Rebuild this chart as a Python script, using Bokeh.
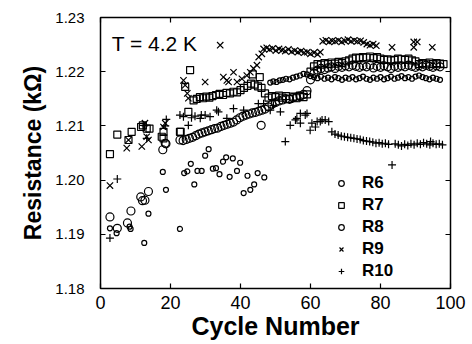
from bokeh.plotting import figure
from bokeh.models import (Range1d, LinearAxis, FixedTicker, NumeralTickFormatter,
                          Legend, LegendItem, Label, CustomLabelingPolicy)
from bokeh.embed import file_html
from bokeh.resources import INLINE

# ---------------- data ----------------
x_ticks = [0, 20, 40, 60, 80, 100]
y_ticks = [1.18, 1.19, 1.20, 1.21, 1.22, 1.23]
series_names = ["R6", "R7", "R8", "R9", "R10"]

r6_x = [2.7, 4.8, 7.7, 8.7, 11.5, 12.0, 12.7, 13.7, 17.8, 18.7, 18.5,
        22.7, 23.6, 24.5, 25.4, 26.3, 27.2, 28.1, 29.0, 29.9, 30.8, 31.7, 32.6,
        33.5, 34.4, 35.3, 36.2, 37.1, 38.0, 38.9, 39.8, 40.7, 41.6, 42.5, 43.4,
        44.3, 45.2, 46.1, 47.0, 45.9,
        48.0, 49.0, 50.0, 51.0, 52.0, 53.0, 54.0, 55.0, 56.0, 57.0, 58.0, 59.0,
        60, 61, 62, 63, 64, 65, 66, 67, 68, 69, 70, 71, 72, 73, 74, 75, 76, 77,
        78, 79, 80, 81, 82, 83, 84, 85, 86, 87, 88, 89, 90, 91, 92, 93, 94, 95,
        96, 97]
r6_y = [1.1932, 1.1911, 1.1921, 1.1943, 1.1969, 1.1962, 1.1963, 1.1979, 1.2056, 1.2067, 1.2068,
        1.2074, 1.2073, 1.2075, 1.2077, 1.2079, 1.2082, 1.2085, 1.2087, 1.2089, 1.2091, 1.2093, 1.2095,
        1.2096, 1.2099, 1.2101, 1.2103, 1.2105, 1.2107, 1.2111, 1.2115, 1.2118, 1.2120, 1.2122, 1.2124,
        1.2125, 1.2127, 1.2129, 1.2131, 1.2101,
        1.2135, 1.2140, 1.2143, 1.2146, 1.2148, 1.2150, 1.2149, 1.2152, 1.2153, 1.2155, 1.2158, 1.2165,
        1.2185, 1.2197, 1.2203, 1.2206, 1.2204, 1.2207, 1.2209, 1.2206, 1.2210, 1.2208, 1.2211, 1.2209,
        1.2212, 1.2210, 1.2208, 1.2211, 1.2209, 1.2212, 1.2207, 1.2210, 1.2208, 1.2211, 1.2209, 1.2206,
        1.2210, 1.2208, 1.2211, 1.2209, 1.2212, 1.2210, 1.2208, 1.2211, 1.2209, 1.2212, 1.2210, 1.2208,
        1.2211, 1.2209]

r7_x = [2.7, 4.8, 8.0, 8.9, 11.6, 12.1, 13.2, 14.0, 17.5, 18.0, 18.0, 22.7, 22.9, 24.2, 25.1, 25.6,
        26.6, 27.5, 28.4, 29.3, 30.2, 31.1, 32, 33, 34, 35, 36, 37, 38, 39, 40, 41, 42, 43,
        43.5, 44, 45, 45.5, 46, 47, 48, 49, 50, 51, 52, 53, 54, 55, 56, 57, 58, 59,
        60, 61, 62, 63, 64, 65, 66, 67, 68, 69, 70, 71, 72, 73, 74, 75, 76, 77, 78, 79,
        80, 81, 82, 83, 84, 85, 86, 87, 88, 89, 90, 91, 92, 93, 94, 95, 96, 97, 98]
r7_y = [1.2048, 1.2084, 1.2074, 1.2089, 1.2098, 1.2101, 1.2095, 1.2095, 1.2080, 1.2089, 1.2077, 1.2089,
        1.2089, 1.2172, 1.2126, 1.2203,
        1.2147, 1.2150, 1.2153, 1.2151, 1.2154, 1.2152, 1.2155, 1.2157, 1.2159, 1.2157, 1.2161, 1.2160,
        1.2163, 1.2162, 1.2166, 1.2170, 1.2174, 1.2178, 1.2195, 1.2176, 1.2173, 1.2190, 1.2170, 1.2160,
        1.2152, 1.2155, 1.2153, 1.2156, 1.2152, 1.2155, 1.2150, 1.2154, 1.2151, 1.2156, 1.2153, 1.2158,
        1.2200, 1.2210, 1.2214, 1.2213, 1.2216, 1.2214, 1.2217, 1.2215, 1.2218, 1.2216, 1.2219, 1.2221,
        1.2224, 1.2226, 1.2225, 1.2227, 1.2226, 1.2228, 1.2225, 1.2227, 1.2224, 1.2222, 1.2223, 1.2221,
        1.2222, 1.2224, 1.2223, 1.2222, 1.2224, 1.2221, 1.2219, 1.2214, 1.2216, 1.2215, 1.2217, 1.2214,
        1.2216, 1.2215, 1.2214]

r8_x = [2.7, 4.6, 8.3, 8.6, 12.5, 13.7, 17.8, 18.7, 22.7, 23.9, 24.8, 25.8, 26.8, 27.7, 28.9,
        29.9, 30.9, 32.1, 33.0, 34.0, 35.0, 35.9, 36.9, 37.8, 39.0, 39.9, 40.9, 42.0, 42.8,
        43.9, 44.9, 46.8,
        48.5, 49.4, 50.3, 51.2, 52.1, 53, 54, 55, 56, 57, 58, 59, 60, 61, 62, 63, 64, 65,
        66, 67, 68, 69, 70, 71, 72, 73, 74, 75, 76, 77, 78, 79, 80, 81, 82, 83, 84, 85, 86,
        87, 88, 89, 90, 91, 92, 93, 94, 95, 96, 97]
r8_y = [1.1911, 1.1902, 1.1914, 1.1910, 1.1884, 1.1938, 1.2015, 1.1982, 1.1910, 1.2013, 1.2016,
        1.2030, 1.1992, 1.2017, 1.2017, 1.2045, 1.2057, 1.2021, 1.2022, 1.2011, 1.2034, 1.2042,
        1.2006, 1.2040, 1.2017, 1.2032, 1.1976, 1.2008, 1.1982, 1.1992, 1.2013, 1.2005,
        1.2180, 1.2182, 1.2181, 1.2184, 1.2185, 1.2187, 1.2186, 1.2189, 1.2191, 1.2193, 1.2196,
        1.2195, 1.2192, 1.2190, 1.2188, 1.2191, 1.2187, 1.2189, 1.2186, 1.2190, 1.2188, 1.2185,
        1.2189, 1.2187, 1.2190, 1.2186, 1.2188, 1.2191, 1.2187, 1.2185, 1.2189, 1.2187, 1.2190,
        1.2186, 1.2188, 1.2191, 1.2187, 1.2189, 1.2192, 1.2188, 1.2190, 1.2187, 1.2191, 1.2193,
        1.2190, 1.2188, 1.2186, 1.2189, 1.2187, 1.2185]

r9_x = [2.7, 7.5, 8.0, 11.8, 12.7, 13.2, 13.7, 18.0, 18.5, 23.7, 24.2, 24.8, 25.1, 29.9, 34.2,
        35.1, 36.1, 36.6, 38.0, 39.0, 40.4, 41.8, 42.8, 43.7, 44.7, 45.2, 46.1, 46.6,
        47.5, 48.3, 49.2, 50.1, 51.0, 51.9, 52.8, 53.7, 54.6, 55.5, 56.4, 57.3, 58.2, 59.1,
        60.0, 61.0, 62.0, 62.8, 63.5, 64.4, 65.3, 66.2, 67.1, 68.0, 68.9, 69.8, 70.7, 71.6,
        72.5, 73.4, 74.3, 75.2, 76.1, 77.0, 77.9, 78.8, 83.3, 89.5, 89.5, 90.5, 94.8]
r9_y = [1.1990, 1.2059, 1.2074, 1.2062, 1.2105, 1.2080, 1.2074, 1.2098, 1.2105, 1.2184, 1.2175,
        1.2160, 1.2151, 1.2181, 1.2249, 1.2190, 1.2184, 1.2181, 1.2199, 1.2181, 1.2187, 1.2193,
        1.2199, 1.2206, 1.2212, 1.2227, 1.2233, 1.2242,
        1.2244, 1.2241, 1.2243, 1.2239, 1.2242, 1.2240, 1.2238, 1.2241, 1.2237, 1.2239, 1.2236,
        1.2238, 1.2235, 1.2236, 1.2233, 1.2235, 1.2232, 1.2236, 1.2256, 1.2258, 1.2255, 1.2257,
        1.2256, 1.2258, 1.2255, 1.2257, 1.2259, 1.2256, 1.2258, 1.2256, 1.2257, 1.2254, 1.2251,
        1.2249, 1.2251, 1.2248, 1.2245, 1.2255, 1.2245, 1.2255, 1.2245]

r10_x = [2.7, 4.8, 12.2, 13.2, 18.5, 18.8, 22.7, 23.7, 25.1, 26.0, 27.0, 28.5, 28.8, 29.9, 31.3,
         33.2, 33.7, 36.1, 38.0, 40.9, 45.1, 46.6, 48.5, 49.4, 51.4, 52.8, 54.2, 55.7, 56.1,
         57.1, 57.1, 58.5, 59.0, 59.9, 60.4, 61.4, 61.9, 62.8, 63.3, 64.2, 65.2, 66.1, 67.0,
         67.9, 68.8, 69.7, 70.6, 71.5, 72.4, 73.3, 74.2, 75.1, 76.0, 76.9, 77.8, 78.7, 79.6,
         80.5, 81.4, 82.3, 83.3, 84.2, 85.1, 86.0, 86.9, 87.8, 88.7, 89.6, 90.5, 91.4, 92.3,
         93.2, 94.1, 94.3, 95.0, 95.9, 96.8, 97.7]
r10_y = [1.1893, 1.2002, 1.2101, 1.2077, 1.2100, 1.2112, 1.2120, 1.2117, 1.2101, 1.2115, 1.2118,
         1.2114, 1.2120, 1.2120, 1.2117, 1.2129, 1.2126, 1.2114, 1.2132, 1.2129, 1.2141, 1.2141,
         1.2129, 1.2138, 1.2126, 1.2071, 1.2101, 1.2111, 1.2114, 1.2105, 1.2123, 1.2120, 1.2123,
         1.2092, 1.2105, 1.2098, 1.2108, 1.2108, 1.2111, 1.2111, 1.2108, 1.2089, 1.2085, 1.2083,
         1.2081, 1.2080, 1.2079, 1.2078, 1.2077, 1.2076, 1.2075, 1.2073, 1.2072, 1.2071, 1.2070,
         1.2068, 1.2069, 1.2067, 1.2068, 1.2066, 1.2028, 1.2067, 1.2065, 1.2063, 1.2066, 1.2064,
         1.2067, 1.2065, 1.2068, 1.2066, 1.2069, 1.2067, 1.2065, 1.2071, 1.2068, 1.2066, 1.2067,
         1.2065]

annotation = "T = 4.2 K"
x_title = "Cycle Number"
y_title = "Resistance (kΩ)"

FONT = "Liberation Sans"

p = figure(width=468, height=344, output_backend="svg", toolbar_location=None,
           x_range=Range1d(0, 100), y_range=Range1d(1.18, 1.23),
           min_border_left=100, min_border_right=18, min_border_top=17, min_border_bottom=56)
p.xgrid.visible = False
p.ygrid.visible = False
p.outline_line_color = "black"
p.outline_line_width = 1.5
p.background_fill_color = "white"
p.border_fill_color = "white"

# main axes
xa = p.xaxis[0]
ya = p.yaxis[0]
xa.ticker = FixedTicker(ticks=x_ticks)
ya.ticker = FixedTicker(ticks=y_ticks)
ya.formatter = NumeralTickFormatter(format="0.00")
for ax in (xa, ya):
    ax.axis_line_color = None
    ax.major_tick_in = 5
    ax.major_tick_out = 0
    ax.minor_tick_line_color = None
    ax.major_tick_line_color = "black"
    ax.major_tick_line_width = 1.2
    ax.major_label_text_font = FONT
    ax.major_label_text_color = "black"
    ax.axis_label_text_font = FONT
    ax.axis_label_text_font_style = "bold"
    ax.axis_label_text_color = "black"
xa.major_label_text_font_size = "18px"
ya.major_label_text_font_size = "15px"
xa.major_label_standoff = 7
ya.major_label_standoff = 16
xa.axis_label = x_title
ya.axis_label = y_title
xa.axis_label_text_font_size = "25px"
ya.axis_label_text_font_size = "23px"
xa.axis_label_standoff = 0
ya.axis_label_standoff = 6

# mirror axes (ticks only, no labels)
no_labels = CustomLabelingPolicy(code="return []")
top = LinearAxis(ticker=FixedTicker(ticks=x_ticks), major_label_policy=no_labels)
right = LinearAxis(ticker=FixedTicker(ticks=y_ticks), major_label_policy=no_labels)
for ax in (top, right):
    ax.axis_line_color = None
    ax.major_tick_in = 5
    ax.major_tick_out = 0
    ax.minor_tick_line_color = None
    ax.major_tick_line_width = 1.2
    ax.major_label_standoff = 0
    ax.major_label_text_font_size = "1px"
p.add_layout(top, "above")
p.add_layout(right, "right")

common = dict(line_color="black", fill_color=None, line_width=1.2)
g6 = p.scatter(r6_x, r6_y, marker="circle", size=8, **common)
g7 = p.scatter(r7_x, r7_y, marker="square", size=7, **common)
g8 = p.scatter(r8_x, r8_y, marker="circle", size=5, **common)
g9 = p.scatter(r9_x, r9_y, marker="x", size=9, **common)
g10 = p.scatter(r10_x, r10_y, marker="cross", size=8, **common)

p.add_layout(Label(x=3.2, y=1.2252, text=annotation, text_font=FONT,
                   text_font_size="21px", text_color="black", text_baseline="alphabetic"))

legend = Legend(items=[LegendItem(label=n, renderers=[g]) for n, g in
                       zip(series_names, [g6, g7, g8, g9, g10])],
                location=(234, 6), orientation="vertical",
                glyph_width=14, glyph_height=22, label_height=22, spacing=0,
                label_standoff=14, padding=0, margin=0,
                border_line_color=None, background_fill_alpha=0,
                label_text_font=FONT, label_text_font_style="bold",
                label_text_font_size="17px", label_text_color="black")
p.add_layout(legend)

open("out.html", "w").write(file_html(p, INLINE))
